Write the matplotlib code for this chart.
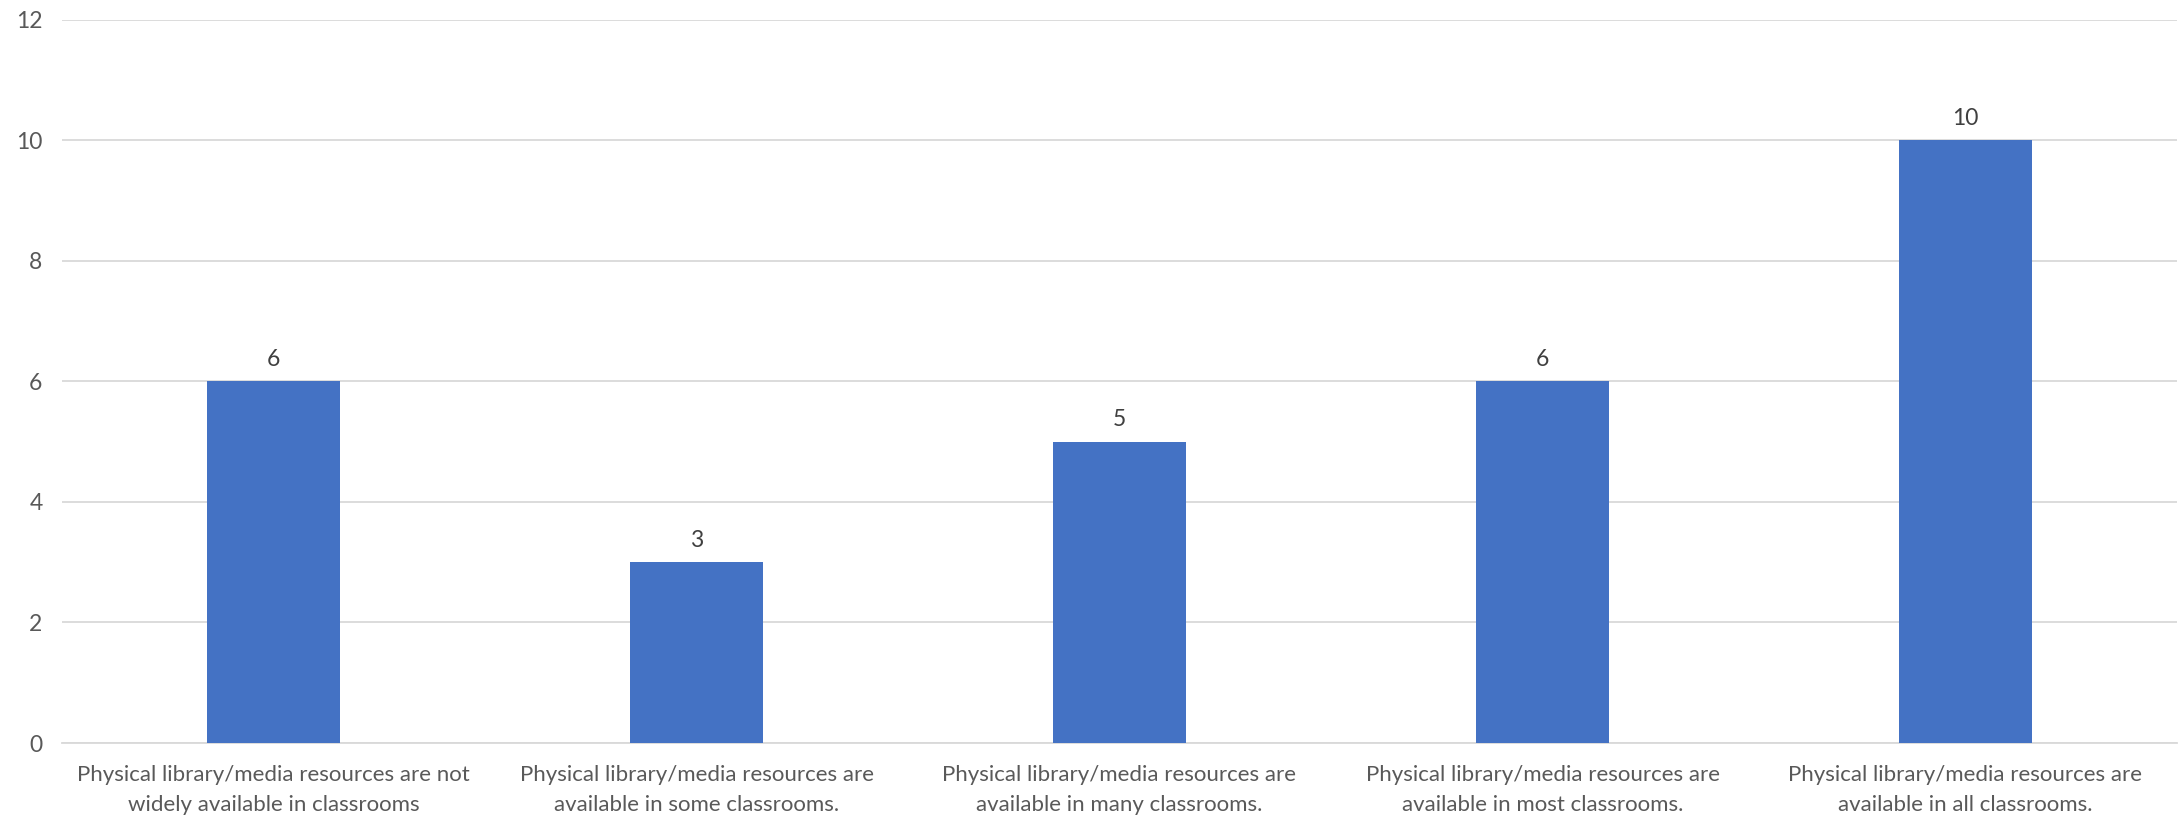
import matplotlib
matplotlib.use("Agg")
import matplotlib.pyplot as plt

categories = [
    "Physical library/media resources are not\nwidely available in classrooms",
    "Physical library/media resources are\navailable in some classrooms.",
    "Physical library/media resources are\navailable in many classrooms.",
    "Physical library/media resources are\navailable in most classrooms.",
    "Physical library/media resources are\navailable in all classrooms.",
]
values = [6, 3, 5, 6, 10]
yticks = [0, 2, 4, 6, 8, 10, 12]

plt.rcParams['font.family'] = ['Lato', 'DejaVu Sans']
text_color = '#595959'

fig = plt.figure(figsize=(21.78, 8.15), dpi=100)
ax = fig.add_axes([62/2178, 1-743/815, (2177-62)/2178, (743-19.5)/815])

x = list(range(len(categories)))
bars = ax.bar(x, values, width=0.314, color='#4472C4', zorder=3)
for b, v in zip(bars, values):
    ax.annotate(str(v), (b.get_x() + b.get_width()/2, v), xytext=(0, 8),
                textcoords='offset points', ha='center', va='bottom',
                fontsize=16.5, color='#404040')

ax.set_xlim(-0.5, len(categories) - 0.5)
ax.set_ylim(0, 12)
ax.set_yticks(yticks)
ax.set_yticklabels([str(t) for t in yticks])
ax.set_xticks(x)
ax.set_xticklabels(categories, linespacing=1.6)
ax.tick_params(axis='both', length=0, labelsize=16, labelcolor=text_color)
ax.tick_params(axis='y', pad=14, labelsize=16.5)
ax.tick_params(axis='x', pad=16)
ax.grid(axis='y', color='#d9d9d9', linewidth=1.3, zorder=0)
for s in ['top', 'right', 'left']:
    ax.spines[s].set_visible(False)
ax.spines['bottom'].set_color('#d9d9d9')
ax.spines['bottom'].set_linewidth(1.3)

fig.savefig('out.png', dpi=100)
